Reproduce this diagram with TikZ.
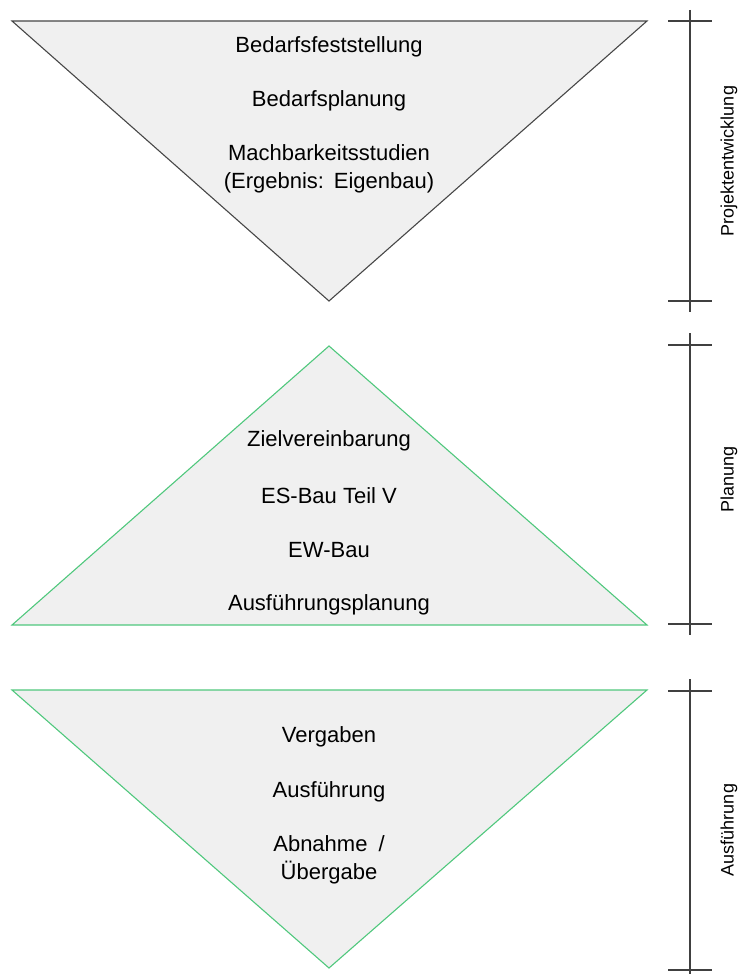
\documentclass[tikz,border=0pt]{standalone}
\usepackage{fontspec}
\setmainfont{Liberation Sans}
\begin{document}
\begin{tikzpicture}[x=1pt,y=-1pt,
  phasefill/.style={fill=gray!12},
  greyedge/.style={draw=black!72,line width=1.1pt},
  greenedge/.style={draw={rgb,255:red,80;green,200;blue,125},line width=1.1pt},
  item/.style={font=\fontsize{22}{27.5}\selectfont,align=center,inner sep=0pt,anchor=center},
  scalebar/.style={draw=black!75,line width=1.1pt},
  phaselabel/.style={font=\fontsize{18}{21}\selectfont,rotate=90,inner sep=0pt,anchor=center}
]
\useasboundingbox (0,0) rectangle (739,974);

% phase triangles
\path[phasefill,greyedge] (12,21) -- (647,21) -- (329,301) -- cycle;
\path[phasefill,greenedge] (329,346) -- (647,625) -- (12,625) -- cycle;
\path[phasefill,greenedge] (12,690) -- (647,690) -- (329,968) -- cycle;

% items of the first phase
\node[item] (bf) at (329,47) {Bedarfsfeststellung};
\node[item] (bp) at (329,101) {Bedarfsplanung};
\node[item] (ms) at (329,169) {Machbarkeitsstudien\\(Ergebnis:\hspace{0.45em}Eigenbau)};

% items of the second phase
\node[item] (zv) at (329,441) {Zielvereinbarung};
\node[item] (es) at (329,496) {ES-Bau Teil V};
\node[item] (ew) at (329,550) {EW-Bau};
\node[item] (ap) at (329,605) {Ausführungsplanung};

% items of the third phase
\node[item] (vg) at (329,737) {Vergaben};
\node[item] (af) at (329,792) {Ausführung};
\node[item] (ab) at (329,860) {Abnahme\hspace{0.5em}/\\Übergabe};

% scale bars with end ticks
\draw[scalebar] (690,10) -- (690,312);
\draw[scalebar] (668,21) -- (712,21);
\draw[scalebar] (668,301) -- (712,301);

\draw[scalebar] (690,333) -- (690,635);
\draw[scalebar] (668,345) -- (712,345);
\draw[scalebar] (668,624) -- (712,624);

\draw[scalebar] (690,679) -- (690,974);
\draw[scalebar] (668,691) -- (712,691);
\draw[scalebar] (668,970) -- (712,970);

% phase names
\node[phaselabel] (l1) at (729,161) {Projektentwicklung};
\node[phaselabel] (l2) at (729,479) {Planung};
\node[phaselabel] (l3) at (729,830) {Ausführung};
\end{tikzpicture}
\end{document}
